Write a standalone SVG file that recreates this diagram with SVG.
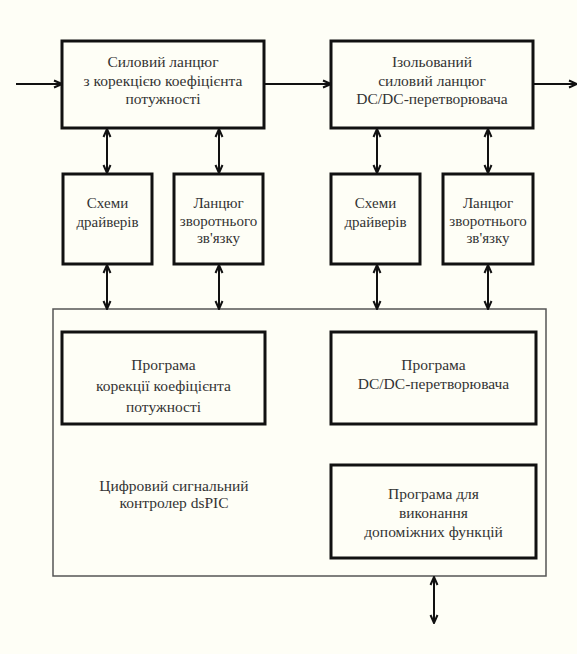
<svg xmlns="http://www.w3.org/2000/svg" width="577" height="654" viewBox="0 0 577 654">
<defs>
<style>
.bx{fill:none;stroke:#111;stroke-width:3}
.ct{fill:none;stroke:#555;stroke-width:1.5}
.cn{stroke:#111;stroke-width:2;fill:none}
.t{font-family:"Liberation Serif","Times New Roman",serif;font-size:15.5px;fill:#333;text-anchor:middle}
.s{font-size:15px}
</style>
<marker id="ah" viewBox="0 0 10 10" refX="9" refY="5" markerWidth="10" markerHeight="10" markerUnits="userSpaceOnUse" orient="auto-start-reverse">
<path d="M1,1.5 L9,5 L1,8.5" fill="none" stroke="#111" stroke-width="2"/>
</marker>
</defs>
<rect width="577" height="654" fill="#fefef6"/>
<g id="container">
<rect class="ct" x="53" y="309" width="493" height="267"/>
<text class="t" x="174" y="491">Цифровий сигнальний</text>
<text class="t" x="174" y="508">контролер dsPIC</text>
</g>
<g id="pfc-power">
<rect class="bx" x="62" y="41" width="202" height="87"/>
<text class="t" x="163" y="67">Силовий ланцюг</text>
<text class="t" x="163" y="86">з корекцією коефіцієнта</text>
<text class="t" x="163" y="104">потужності</text>
</g>
<g id="dcdc-power">
<rect class="bx" x="331" y="41" width="202" height="87"/>
<text class="t" x="432" y="67">Ізольований</text>
<text class="t" x="432" y="86">силовий ланцюг</text>
<text class="t" x="432" y="104">DC/DC-перетворювача</text>
</g>
<g id="drivers1">
<rect class="bx" x="63" y="174" width="89" height="90"/>
<text class="t s" x="107.5" y="208">Схеми</text>
<text class="t s" x="107.5" y="227">драйверів</text>
</g>
<g id="feedback1">
<rect class="bx" x="174" y="174" width="89" height="90"/>
<text class="t s" x="218.5" y="208">Ланцюг</text>
<text class="t s" x="218.5" y="226">зворотнього</text>
<text class="t s" x="218.5" y="243">зв'язку</text>
</g>
<g id="drivers2">
<rect class="bx" x="331" y="174" width="89" height="90"/>
<text class="t s" x="375.5" y="208">Схеми</text>
<text class="t s" x="375.5" y="227">драйверів</text>
</g>
<g id="feedback2">
<rect class="bx" x="443" y="174" width="90" height="90"/>
<text class="t s" x="488" y="208">Ланцюг</text>
<text class="t s" x="488" y="226">зворотнього</text>
<text class="t s" x="488" y="243">зв'язку</text>
</g>
<g id="pfc-program">
<rect class="bx" x="62" y="332" width="203" height="92"/>
<text class="t" x="163.5" y="370">Програма</text>
<text class="t" x="163.5" y="391">корекції коефіцієнта</text>
<text class="t" x="163.5" y="412">потужності</text>
</g>
<g id="dcdc-program">
<rect class="bx" x="331" y="332" width="205" height="92"/>
<text class="t" x="433.5" y="370">Програма</text>
<text class="t" x="433.5" y="389">DC/DC-перетворювача</text>
</g>
<g id="aux-program">
<rect class="bx" x="331" y="465" width="205" height="93"/>
<text class="t" x="433.5" y="499">Програма для</text>
<text class="t" x="433.5" y="518">виконання</text>
<text class="t" x="433.5" y="537">допоміжних функцій</text>
</g>
<g id="connectors">
<line class="cn" x1="16" y1="84" x2="62" y2="84" marker-end="url(#ah)"/>
<line class="cn" x1="264" y1="84" x2="331" y2="84" marker-end="url(#ah)"/>
<line class="cn" x1="533" y1="84" x2="577" y2="84" marker-end="url(#ah)"/>
<line class="cn" x1="107" y1="129" x2="107" y2="173" marker-start="url(#ah)" marker-end="url(#ah)"/>
<line class="cn" x1="219" y1="129" x2="219" y2="173" marker-start="url(#ah)" marker-end="url(#ah)"/>
<line class="cn" x1="377" y1="129" x2="377" y2="173" marker-start="url(#ah)" marker-end="url(#ah)"/>
<line class="cn" x1="488" y1="129" x2="488" y2="173" marker-start="url(#ah)" marker-end="url(#ah)"/>
<line class="cn" x1="107" y1="265" x2="107" y2="309" marker-start="url(#ah)" marker-end="url(#ah)"/>
<line class="cn" x1="219" y1="265" x2="219" y2="309" marker-start="url(#ah)" marker-end="url(#ah)"/>
<line class="cn" x1="377" y1="265" x2="377" y2="309" marker-start="url(#ah)" marker-end="url(#ah)"/>
<line class="cn" x1="488" y1="265" x2="488" y2="309" marker-start="url(#ah)" marker-end="url(#ah)"/>
<line class="cn" x1="434" y1="577" x2="434" y2="623" marker-start="url(#ah)" marker-end="url(#ah)"/>
</g>
</svg>
